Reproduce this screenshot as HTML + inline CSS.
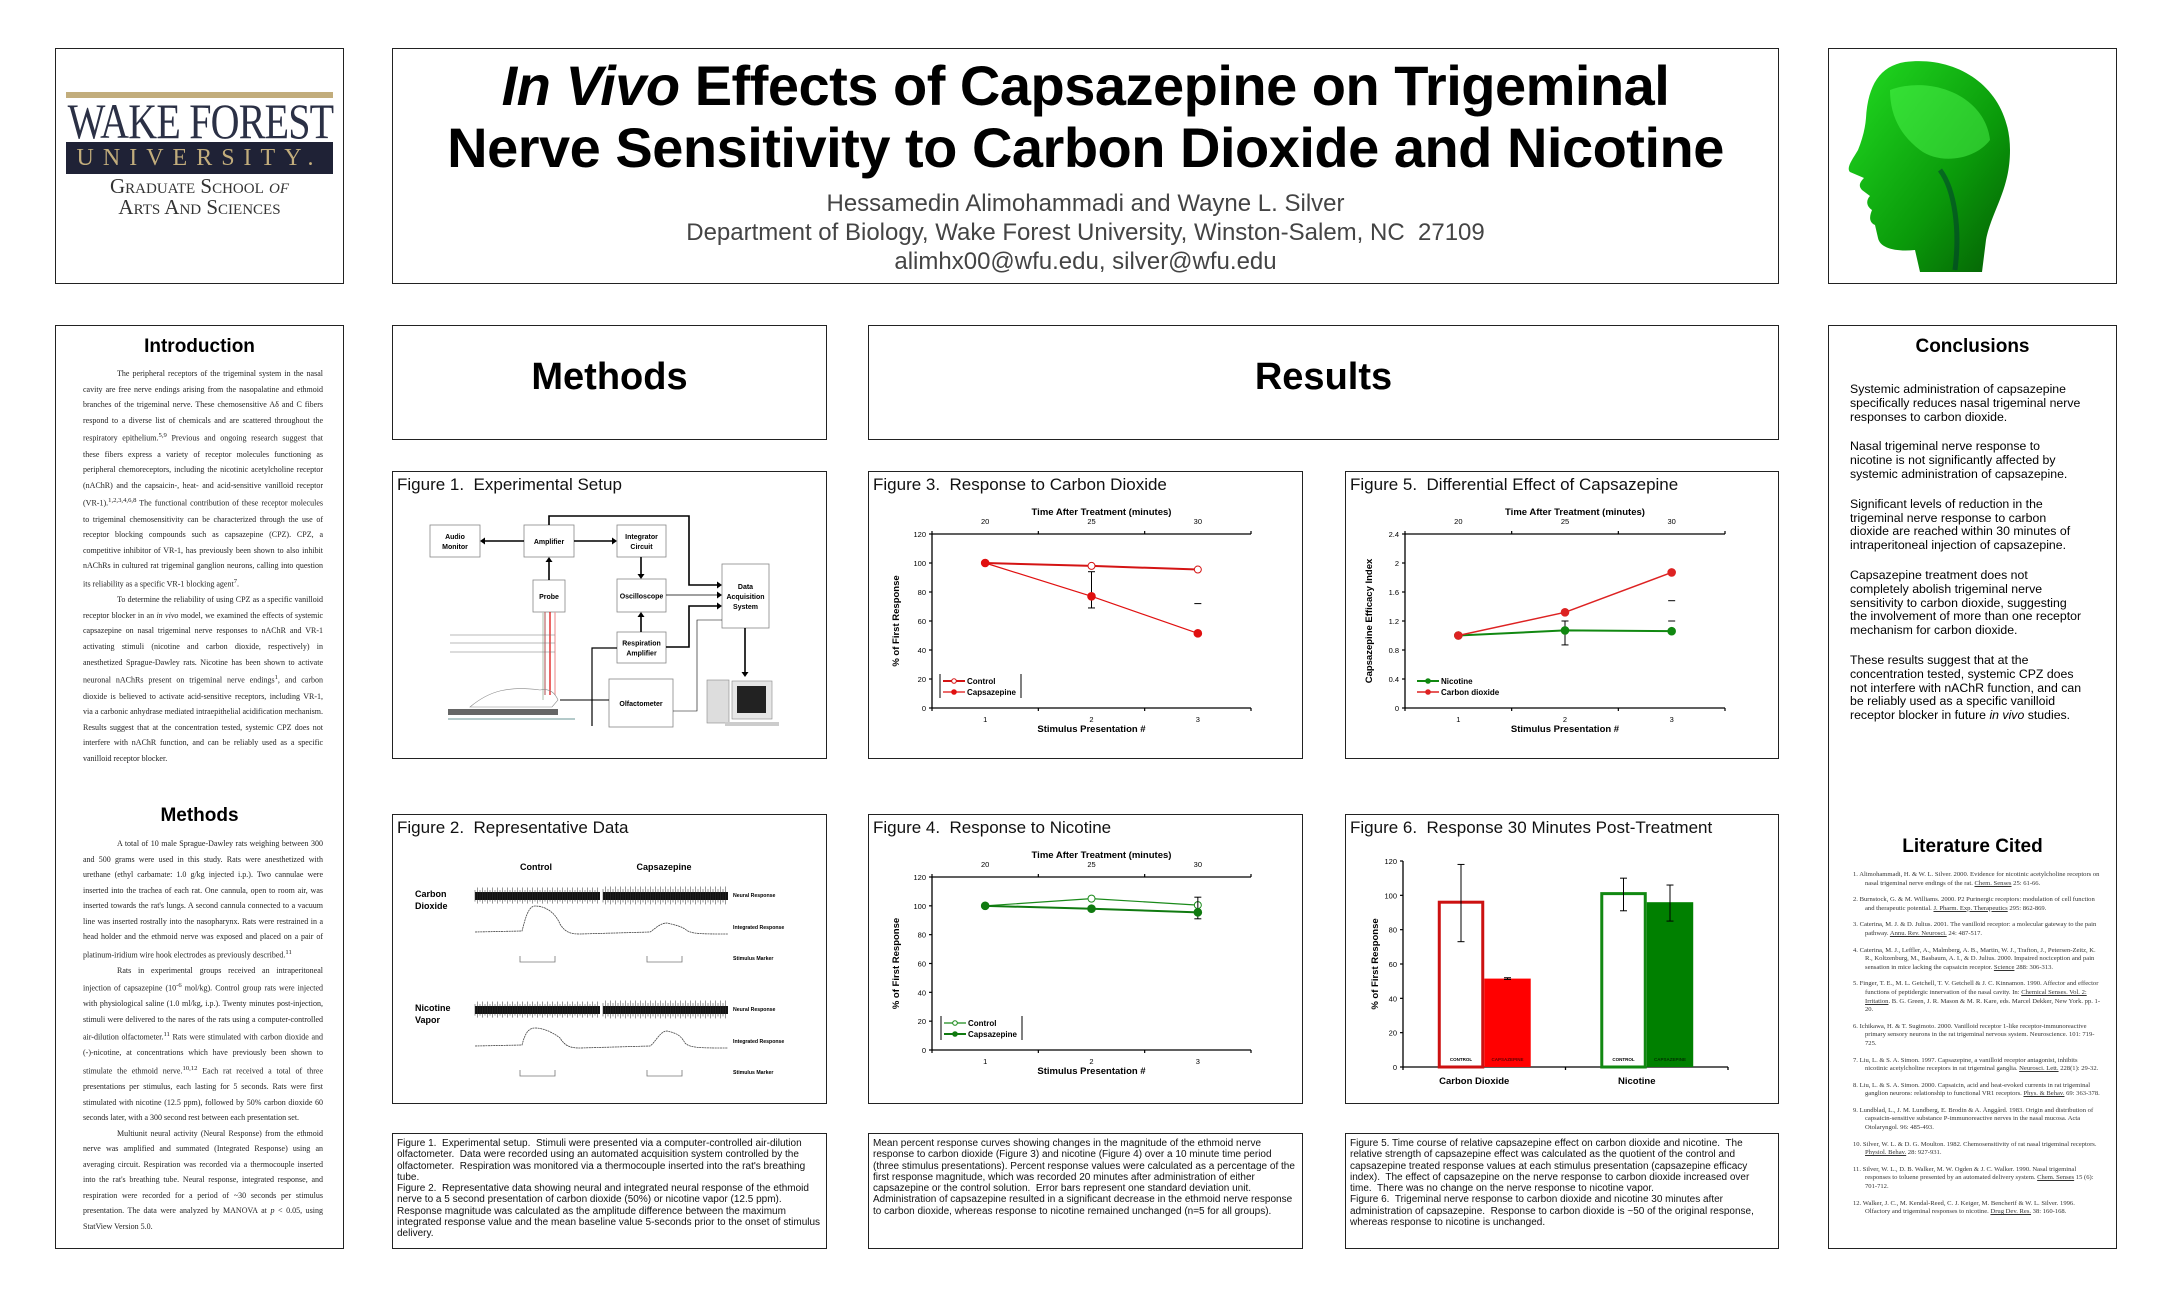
<!DOCTYPE html>
<html><head><meta charset="utf-8">
<style>
*{margin:0;padding:0;box-sizing:border-box}
body{width:2160px;height:1296px;background:#fff;position:relative;overflow:hidden;font-family:"Liberation Sans",sans-serif;color:#000}
.box{position:absolute;border:1.5px solid #222;background:#fff}
.abs{position:absolute}
.h{position:absolute;font-weight:bold;text-align:center;width:100%}
.serif{font-family:"Liberation Serif",serif}
.body8{position:absolute;font-family:"Liberation Serif",serif;font-size:8px;text-align:justify;color:#222}
.body8 p{text-indent:34px}
.concl p{margin-bottom:16px}
.cap{position:absolute;font-family:"Liberation Sans Narrow","Liberation Sans",sans-serif;font-size:10px;line-height:11.3px;color:#111}
.ftitle{position:absolute;font-size:17px;color:#111}
.refs p{margin-bottom:8px;padding-left:12px;text-indent:-12px}
</style></head><body>

<!-- Logo -->
<div class="box" style="left:55px;top:48px;width:289px;height:236px">
  <div class="abs" style="left:10px;top:43px;width:267px;height:6px;background:#c2ad7c"></div>
  <div class="abs serif" style="left:-40px;top:47px;width:369px;text-align:center;font-size:50px;line-height:50px;color:#2b3045;letter-spacing:-1px;white-space:nowrap;transform:scaleX(0.8)">WAKE FOREST</div>
  <div class="abs serif" style="left:10px;top:93px;width:267px;height:32px;background:#1f2236;color:#c2ad7c;font-size:24px;text-align:center;letter-spacing:9px;line-height:32px;white-space:nowrap">UNIVERSITY.</div>
  <div class="abs serif" style="left:0;top:125px;width:100%;text-align:center;font-size:21px;color:#333;font-variant:small-caps">Graduate School <i>of</i></div>
  <div class="abs serif" style="left:0;top:146px;width:100%;text-align:center;font-size:21px;color:#333;font-variant:small-caps">Arts And Sciences</div>
</div>

<!-- Title -->
<div class="box" style="left:392px;top:48px;width:1387px;height:236px">
  <div class="h" style="top:6px;font-size:56px;line-height:62px;letter-spacing:-0.5px"><i>In Vivo</i> Effects of Capsazepine on Trigeminal<br>Nerve Sensitivity to Carbon Dioxide and Nicotine</div>
  <div class="abs" style="left:0;top:140px;width:100%;text-align:center;font-size:24px;line-height:29px;color:#444">Hessamedin Alimohammadi and Wayne L. Silver<br>Department of Biology, Wake Forest University, Winston-Salem, NC&nbsp; 27109<br>alimhx00@wfu.edu, silver@wfu.edu</div>
</div>

<!-- Head -->
<div class="box" style="left:1828px;top:48px;width:289px;height:236px"></div>

<!-- Left column -->
<div class="box" style="left:55px;top:325px;width:289px;height:924px">
  <div class="h" style="top:10px;font-size:19px">Introduction</div>
  <div class="body8" style="left:27px;top:40px;width:240px;line-height:15.6px">
  <p>The peripheral receptors of the trigeminal system in the nasal cavity are free nerve endings arising from the nasopalatine and ethmoid branches of the trigeminal nerve. These chemosensitive Aδ and C fibers respond to a diverse list of chemicals and are scattered throughout the respiratory epithelium.<sup>5,9</sup> Previous and ongoing research suggest that these fibers express a variety of receptor molecules functioning as peripheral chemoreceptors, including the nicotinic acetylcholine receptor (nAChR) and the capsaicin-, heat- and acid-sensitive vanilloid receptor (VR-1).<sup>1,2,3,4,6,8</sup> The functional contribution of these receptor molecules to trigeminal chemosensitivity can be characterized through the use of receptor blocking compounds such as capsazepine (CPZ). CPZ, a competitive inhibitor of VR-1, has previously been shown to also inhibit nAChRs in cultured rat trigeminal ganglion neurons, calling into question its reliability as a specific VR-1 blocking agent<sup>7</sup>.</p>
  <p>To determine the reliability of using CPZ as a specific vanilloid receptor blocker in an <i>in vivo</i> model, we examined the effects of systemic capsazepine on nasal trigeminal nerve responses to nAChR and VR-1 activating stimuli (nicotine and carbon dioxide, respectively) in anesthetized Sprague-Dawley rats. Nicotine has been shown to activate neuronal nAChRs present on trigeminal nerve endings<sup>1</sup>, and carbon dioxide is believed to activate acid-sensitive receptors, including VR-1, via a carbonic anhydrase mediated intraepithelial acidification mechanism. Results suggest that at the concentration tested, systemic CPZ does not interfere with nAChR function, and can be reliably used as a specific vanilloid receptor blocker.</p>
  </div>
  <div class="h" style="top:479px;font-size:19px">Methods</div>
  <div class="body8" style="left:27px;top:510px;width:240px;line-height:15.5px">
  <p>A total of 10 male Sprague-Dawley rats weighing between 300 and 500 grams were used in this study. Rats were anesthetized with urethane (ethyl carbamate: 1.0 g/kg injected i.p.). Two cannulae were inserted into the trachea of each rat. One cannula, open to room air, was inserted towards the rat's lungs. A second cannula connected to a vacuum line was inserted rostrally into the nasopharynx. Rats were restrained in a head holder and the ethmoid nerve was exposed and placed on a pair of platinum-iridium wire hook electrodes as previously described.<sup>11</sup></p>
  <p>Rats in experimental groups received an intraperitoneal injection of capsazepine (10<sup>-6</sup> mol/kg). Control group rats were injected with physiological saline (1.0 ml/kg, i.p.). Twenty minutes post-injection, stimuli were delivered to the nares of the rats using a computer-controlled air-dilution olfactometer.<sup>11</sup> Rats were stimulated with carbon dioxide and (-)-nicotine, at concentrations which have previously been shown to stimulate the ethmoid nerve.<sup>10,12</sup> Each rat received a total of three presentations per stimulus, each lasting for 5 seconds. Rats were first stimulated with nicotine (12.5 ppm), followed by 50% carbon dioxide 60 seconds later, with a 300 second rest between each presentation set.</p>
  <p>Multiunit neural activity (Neural Response) from the ethmoid nerve was amplified and summated (Integrated Response) using an averaging circuit. Respiration was recorded via a thermocouple inserted into the rat's breathing tube. Neural response, integrated response, and respiration were recorded for a period of ~30 seconds per stimulus presentation. The data were analyzed by MANOVA at <i>p</i> &lt; 0.05, using StatView Version 5.0.</p>
  </div>
</div>

<!-- Headers -->
<div class="box" style="left:392px;top:325px;width:435px;height:115px"><div class="h" style="top:30px;font-size:38px">Methods</div></div>
<div class="box" style="left:868px;top:325px;width:911px;height:115px"><div class="h" style="top:30px;font-size:38px">Results</div></div>

<!-- Figure boxes -->
<div class="box" style="left:392px;top:471px;width:435px;height:288px"><div class="ftitle" style="left:4px;top:3px">Figure 1.&nbsp; Experimental Setup</div></div>
<div class="box" style="left:868px;top:471px;width:435px;height:288px"><div class="ftitle" style="left:4px;top:3px">Figure 3.&nbsp; Response to Carbon Dioxide</div></div>
<div class="box" style="left:1345px;top:471px;width:434px;height:288px"><div class="ftitle" style="left:4px;top:3px">Figure 5.&nbsp; Differential Effect of Capsazepine</div></div>
<div class="box" style="left:392px;top:814px;width:435px;height:290px"><div class="ftitle" style="left:4px;top:3px">Figure 2.&nbsp; Representative Data</div></div>
<div class="box" style="left:868px;top:814px;width:435px;height:290px"><div class="ftitle" style="left:4px;top:3px">Figure 4.&nbsp; Response to Nicotine</div></div>
<div class="box" style="left:1345px;top:814px;width:434px;height:290px"><div class="ftitle" style="left:4px;top:3px">Figure 6.&nbsp; Response 30 Minutes Post-Treatment</div></div>

<!-- Captions -->
<div class="box" style="left:392px;top:1133px;width:435px;height:116px"><div class="cap" style="left:4px;top:4px;width:425px">Figure 1.&nbsp; Experimental setup.&nbsp; Stimuli were presented via a computer-controlled air-dilution olfactometer.&nbsp; Data were recorded using an automated acquisition system controlled by the olfactometer.&nbsp; Respiration was monitored via a thermocouple inserted into the rat's breathing tube.<br>Figure 2.&nbsp; Representative data showing neural and integrated neural response of the ethmoid nerve to a 5 second presentation of carbon dioxide (50%) or nicotine vapor (12.5 ppm). Response magnitude was calculated as the amplitude difference between the maximum integrated response value and the mean baseline value 5-seconds prior to the onset of stimulus delivery.</div></div>
<div class="box" style="left:868px;top:1133px;width:435px;height:116px"><div class="cap" style="left:4px;top:4px;width:425px">Mean percent response curves showing changes in the magnitude of the ethmoid nerve response to carbon dioxide (Figure 3) and nicotine (Figure 4) over a 10 minute time period (three stimulus presentations). Percent response values were calculated as a percentage of the first response magnitude, which was recorded 20 minutes after administration of either capsazepine or the control solution.&nbsp; Error bars represent one standard deviation unit.&nbsp; Administration of capsazepine resulted in a significant decrease in the ethmoid nerve response to carbon dioxide, whereas response to nicotine remained unchanged (n=5 for all groups).</div></div>
<div class="box" style="left:1345px;top:1133px;width:434px;height:116px"><div class="cap" style="left:4px;top:4px;width:424px">Figure 5. Time course of relative capsazepine effect on carbon dioxide and nicotine.&nbsp; The relative strength of capsazepine effect was calculated as the quotient of the control and capsazepine treated response values at each stimulus presentation (capsazepine efficacy index).&nbsp; The effect of capsazepine on the nerve response to carbon dioxide increased over time.&nbsp; There was no change on the nerve response to nicotine vapor.<br>Figure 6.&nbsp; Trigeminal nerve response to carbon dioxide and nicotine 30 minutes after administration of capsazepine.&nbsp; Response to carbon dioxide is ~50 of the original response, whereas response to nicotine is unchanged.</div></div>

<!-- Right column -->
<div class="box" style="left:1828px;top:325px;width:289px;height:924px">
  <div class="h" style="top:10px;font-size:19px">Conclusions</div>
  <div class="abs concl" style="left:21px;top:57px;width:232px;font-size:12.3px;line-height:13.8px">
    <p>Systemic administration of capsazepine specifically reduces nasal trigeminal nerve responses to carbon dioxide.</p>
    <p>Nasal trigeminal nerve response to nicotine is not significantly affected by systemic administration of capsazepine.</p>
    <p>Significant levels of reduction in the trigeminal nerve response to carbon dioxide are reached within 30 minutes of intraperitoneal injection of capsazepine.</p>
    <p>Capsazepine treatment does not completely abolish trigeminal nerve sensitivity to carbon dioxide, suggesting the involvement of more than one receptor mechanism for carbon dioxide.</p>
    <p>These results suggest that at the concentration tested, systemic CPZ does not interfere with nAChR function, and can be reliably used as a specific vanilloid receptor blocker in future <i>in vivo</i> studies.</p>
  </div>
  <div class="h" style="top:510px;font-size:19px">Literature Cited</div>
  <div class="abs refs serif" style="left:24px;top:545px;width:248px;font-size:6.6px;line-height:8.6px;color:#333">
    <p>1. Alimohammadi, H. &amp; W. L. Silver. 2000. Evidence for nicotinic acetylcholine receptors on nasal trigeminal nerve endings of the rat. <u>Chem. Senses</u> 25: 61-66.</p>
    <p>2. Burnstock, G. &amp; M. Williams. 2000. P2 Purinergic receptors: modulation of cell function and therapeutic potential. <u>J. Pharm. Exp. Therapeutics</u> 295: 862-869.</p>
    <p>3. Caterina, M. J. &amp; D. Julius. 2001. The vanilloid receptor: a molecular gateway to the pain pathway. <u>Annu. Rev. Neurosci.</u> 24: 487-517.</p>
    <p>4. Caterina, M. J., Leffler, A., Malmberg, A. B., Martin, W. J., Trafton, J., Petersen-Zeitz, K. R., Koltzenburg, M., Basbaum, A. I., &amp; D. Julius. 2000. Impaired nociception and pain sensation in mice lacking the capsaicin receptor. <u>Science</u> 288: 306-313.</p>
    <p>5. Finger, T. E., M. L. Getchell, T. V. Getchell &amp; J. C. Kinnamon. 1990. Affector and effector functions of peptidergic innervation of the nasal cavity. In: <u>Chemical Senses. Vol. 2: Irritation</u>. B. G. Green, J. R. Mason &amp; M. R. Kare, eds. Marcel Dekker, New York. pp. 1-20.</p>
    <p>6. Ichikawa, H. &amp; T. Sugimoto. 2000. Vanilloid receptor 1-like receptor-immunoreactive primary sensory neurons in the rat trigeminal nervous system. Neuroscience. 101: 719-725.</p>
    <p>7. Liu, L. &amp; S. A. Simon. 1997. Capsazepine, a vanilloid receptor antagonist, inhibits nicotinic acetylcholine receptors in rat trigeminal ganglia. <u>Neurosci. Lett.</u> 228(1): 29-32.</p>
    <p>8. Liu, L. &amp; S. A. Simon. 2000. Capsaicin, acid and heat-evoked currents in rat trigeminal ganglion neurons: relationship to functional VR1 receptors. <u>Phys. &amp; Behav.</u> 69: 363-378.</p>
    <p>9. Lundblad, L., J. M. Lundberg, E. Brodin &amp; A. Änggård. 1983. Origin and distribution of capsaicin-sensitive substance P-immunoreactive nerves in the nasal mucosa. Acta Otolaryngol. 96: 485-493.</p>
    <p>10. Silver, W. L. &amp; D. G. Moulton. 1982. Chemosensitivity of rat nasal trigeminal receptors. <u>Physiol. Behav.</u> 28: 927-931.</p>
    <p>11. Silver, W. L., D. B. Walker, M. W. Ogden &amp; J. C. Walker. 1990. Nasal trigeminal responses to toluene presented by an automated delivery system. <u>Chem. Senses</u> 15 (6): 701-712.</p>
    <p>12. Walker, J. C., M. Kendal-Reed, C. J. Keiger, M. Bencherif &amp; W. L. Silver. 1996. Olfactory and trigeminal responses to nicotine. <u>Drug Dev. Res.</u> 38: 160-168.</p>
  </div>
</div>

<svg id="art" width="2160" height="1296" style="position:absolute;left:0;top:0" xmlns="http://www.w3.org/2000/svg" font-family="Liberation Sans, sans-serif">
  <defs>
    <linearGradient id="hg" x1="0" y1="0" x2="1" y2="1"><stop offset="0" stop-color="#22dd22"/><stop offset="0.6" stop-color="#0a9a0a"/><stop offset="1" stop-color="#045c04"/></linearGradient>
  </defs>
  <g>
    <path d="M1905 62 C1960 55 2010 90 2010 150 C2010 190 1992 210 1986 240 L1982 272 L1920 272 L1915 250 C1895 252 1880 248 1878 238 L1875 225 C1868 222 1870 215 1872 210 C1866 206 1866 200 1870 196 L1862 190 C1858 186 1860 182 1864 178 L1850 172 C1846 168 1852 160 1858 150 C1862 140 1865 130 1866 118 C1868 85 1880 66 1905 62 Z" fill="url(#hg)"/>
    <path d="M1890 90 C1930 75 1985 95 1990 140 C1975 160 1940 165 1920 150 C1900 135 1890 115 1890 90 Z" fill="#5f5" opacity="0.45"/>
    <path d="M1940 170 C1955 190 1960 230 1955 270" stroke="#033" stroke-width="5" fill="none" opacity="0.5"/>
  </g>
  <g id="fig1"></g>
  <g id="fig2"></g>
  <g id="fig3"></g>
  <g id="fig4"></g>
  <g id="fig5"></g>
  <g id="fig6"></g>
</svg>

<script>
// ---- Chart data ----
const stimulusCategories = [1, 2, 3];
const timeLabels = ["20", "25", "30"];
const pctTicks = [0, 20, 40, 60, 80, 100, 120];
const indexTicks = [0, 0.4, 0.8, 1.2, 1.6, 2, 2.4];
const indexTickLabels = ["0", "0.4", "0.8", "1.2", "1.6", "2", "2.4"];

const co2Control = [100, 98, 95.5];
const co2Caps = [100, 77, 51.5];
const co2CapsErrHi = [null, 94, 72];
const co2CapsErrLo = [null, 69, null];

const nicControl = [100, 105, 100.5];
const nicCaps = [100, 98, 95.5];
const nicCapsErrHi = [null, null, 106];
const nicCapsErrLo = [null, null, 91];

const effNicotine = [1, 1.07, 1.06];
const effNicErrHi = [null, 1.2, 1.2];
const effNicErrLo = [null, 0.87, null];
const effCO2 = [1, 1.32, 1.87];
const effCO2ErrHi = [null, null, 1.48];
const effCO2ErrLo = [null, null, null];

const barGroups = ["Carbon Dioxide", "Nicotine"];
const barControl = [96, 101];
const barCaps = [51.5, 96];
const barControlErrLo = [73, 91];
const barControlErrHi = [118, 110];
const barCapsErrLo = [51, 85];
const barCapsErrHi = [52, 106];

const NS = "http://www.w3.org/2000/svg";
function mk(parent, tag, attrs, text) {
  const e = document.createElementNS(NS, tag);
  for (const k in attrs) e.setAttribute(k, attrs[k]);
  if (text !== undefined) e.textContent = text;
  parent.appendChild(e);
  return e;
}

function lineChart(g, cfg) {
  const L = cfg.left, R = cfg.right, T = cfg.top, B = cfg.bottom;
  const xs = c => L + (c - 0.5) / 3 * (R - L);
  const ys = v => B - v / cfg.ymax * (B - T);
  let a = mk(g, 'line', {x1: L, y1: T, x2: L, y2: B, stroke: '#000', 'stroke-width': 1.3});
   
  a = mk(g, 'line', {x1: L, y1: B, x2: R, y2: B, stroke: '#000', 'stroke-width': 1.3});
   
  a = mk(g, 'line', {x1: L, y1: T, x2: R, y2: T, stroke: '#000', 'stroke-width': 1.3});
   
  [0.5, 1.5, 2.5, 3.5].forEach(c => {
    mk(g, 'line', {x1: xs(c), y1: B, x2: xs(c), y2: B + 3, stroke: '#000', 'stroke-width': 1.2});
    mk(g, 'line', {x1: xs(c), y1: T, x2: xs(c), y2: T - 3, stroke: '#000', 'stroke-width': 1.2});
  });
  cfg.ticks.forEach((v, i) => {
    mk(g, 'line', {x1: L - 3, y1: ys(v), x2: L, y2: ys(v), stroke: '#000', 'stroke-width': 1.2});
    const t = mk(g, 'text', {x: L - 6, y: ys(v) + 3, 'font-size': 7.5, 'text-anchor': 'end'}, cfg.tickLabels[i]);
     
  });
  stimulusCategories.forEach((c, i) => {
    let t = mk(g, 'text', {x: xs(c), y: B + 14, 'font-size': 7.5, 'text-anchor': 'middle'}, String(c));
     
    t = mk(g, 'text', {x: xs(c), y: T - 10, 'font-size': 7.5, 'text-anchor': 'middle'}, timeLabels[i]);
     
  });
  let t = mk(g, 'text', {x: (L + R) / 2 + 10, y: T - 19, 'font-size': 9.5, 'font-weight': 'bold', 'text-anchor': 'middle'}, 'Time After Treatment (minutes)');
   
  t = mk(g, 'text', {x: xs(2), y: B + 24, 'font-size': 9.5, 'font-weight': 'bold', 'text-anchor': 'middle'}, 'Stimulus Presentation #');
   
  t = mk(g, 'text', {x: 0, y: 0, 'font-size': 9.5, 'font-weight': 'bold', 'text-anchor': 'middle', transform: `translate(${L - 33},${(T + B) / 2}) rotate(-90)`}, cfg.ytitle);
   

  cfg.series.forEach(s => {
    const pts = s.values.map((v, i) => xs(stimulusCategories[i]) + ',' + ys(v)).join(' ');
    const pl = mk(g, 'polyline', {points: pts, fill: 'none', stroke: s.color, 'stroke-width': s.width});
     
    if (s.errHi) s.values.forEach((v, i) => {
      const x = xs(stimulusCategories[i]);
      const hi = s.errHi[i], lo = s.errLo[i];
      if (hi !== null && lo !== null) mk(g, 'line', {x1: x, y1: ys(hi), x2: x, y2: ys(lo), stroke: '#000', 'stroke-width': 1});
      [hi, lo].forEach(e => { if (e !== null) mk(g, 'line', {x1: x - 3.5, y1: ys(e), x2: x + 3.5, y2: ys(e), stroke: '#000', 'stroke-width': 1}); });
    });
    s.values.forEach((v, i) => {
      const c = mk(g, 'circle', {cx: xs(stimulusCategories[i]), cy: ys(v), r: s.r, fill: s.open ? '#fff' : s.color, stroke: s.color, 'stroke-width': 1});
       
    });
  });
  const lg = cfg.legend;
  if (lg.box) {
    mk(g, 'line', {x1: lg.x, y1: lg.y, x2: lg.x, y2: lg.y + 24, stroke: '#000', 'stroke-width': 1});
    mk(g, 'line', {x1: lg.x + 81, y1: lg.y, x2: lg.x + 81, y2: lg.y + 24, stroke: '#000', 'stroke-width': 1});
  }
  cfg.series.forEach((s, i) => {
    const yy = lg.y + 7 + i * 11;
    const lx = lg.x + 3;
    mk(g, 'line', {x1: lx, y1: yy, x2: lx + 22, y2: yy, stroke: s.color, 'stroke-width': s.width});
    mk(g, 'circle', {cx: lx + 11, cy: yy, r: 2.3, fill: s.open ? '#fff' : s.color, stroke: s.color, 'stroke-width': 1});
    const lt = mk(g, 'text', {x: lx + 24, y: yy + 3, 'font-size': 8, 'font-weight': 'bold'}, s.label);
     
  });
}

lineChart(document.getElementById('fig3'), {
  left: 932, right: 1251, top: 534, bottom: 708, ymax: 120, ticks: pctTicks, tickLabels: pctTicks.map(String),
  ytitle: '% of First Response', legend: {x: 940, y: 674, box: true},
  series: [
    {name: 'co2-control', label: 'Control', values: co2Control, color: '#d41414', width: 2, open: true, r: 3.5},
    {name: 'co2-capsazepine', label: 'Capsazepine', values: co2Caps, color: '#e01010', width: 1.2, open: false, r: 3.8, errHi: co2CapsErrHi, errLo: co2CapsErrLo}
  ]
});
lineChart(document.getElementById('fig4'), {
  left: 932, right: 1251, top: 877, bottom: 1050, ymax: 120, ticks: pctTicks, tickLabels: pctTicks.map(String),
  ytitle: '% of First Response', legend: {x: 941, y: 1016, box: true},
  series: [
    {name: 'nic-control', label: 'Control', values: nicControl, color: '#1a8a1a', width: 1.2, open: true, r: 3.5},
    {name: 'nic-capsazepine', label: 'Capsazepine', values: nicCaps, color: '#107a10', width: 2, open: false, r: 3.8, errHi: nicCapsErrHi, errLo: nicCapsErrLo}
  ]
});
lineChart(document.getElementById('fig5'), {
  left: 1405, right: 1725, top: 534, bottom: 708, ymax: 2.4, ticks: indexTicks, tickLabels: indexTickLabels,
  ytitle: 'Capsazepine Efficacy Index', legend: {x: 1414, y: 674, box: false},
  series: [
    {name: 'efficacy-nicotine', label: 'Nicotine', values: effNicotine, color: '#118811', width: 2, open: false, r: 3.8, errHi: effNicErrHi, errLo: effNicErrLo},
    {name: 'efficacy-co2', label: 'Carbon dioxide', values: effCO2, color: '#dd2222', width: 1.5, open: false, r: 3.8, errHi: effCO2ErrHi, errLo: effCO2ErrLo}
  ]
});

// Figure 6 bar chart
(function () {
  const g = document.getElementById('fig6');
  const L = 1403, R = 1728, T = 861, B = 1067, ymax = 120;
  const ys = v => B - v / ymax * (B - T);
  const catW = (R - L) / barGroups.length;
  const bw = catW * 0.286;
  mk(g, 'line', {x1: L, y1: T, x2: L, y2: B, stroke: '#000', 'stroke-width': 1.3});
  mk(g, 'line', {x1: L, y1: B, x2: R, y2: B, stroke: '#000', 'stroke-width': 1.3});
  [0, 1, 2].forEach(i => mk(g, 'line', {x1: L + i * catW, y1: B, x2: L + i * catW, y2: B + 3, stroke: '#000', 'stroke-width': 1.3}));
  pctTicks.forEach(v => {
    mk(g, 'line', {x1: L - 3, y1: ys(v), x2: L, y2: ys(v), stroke: '#000', 'stroke-width': 1.2});
    const t = mk(g, 'text', {x: L - 6, y: ys(v) + 3, 'font-size': 7.5, 'text-anchor': 'end'}, String(v));
     
  });
  let t = mk(g, 'text', {x: 0, y: 0, 'font-size': 9.5, 'font-weight': 'bold', 'text-anchor': 'middle', transform: `translate(${L - 25},${(T + B) / 2}) rotate(-90)`}, '% of First Response');
   
  const colors = ['#cc1111', '#118811'];
  const fills = ['#ff0000', '#008000'];
  barGroups.forEach((name, i) => {
    const cx = L + catW * (i + 0.5);
    const c = mk(g, 'rect', {x: cx - bw + 1.5, y: ys(barControl[i]), width: bw - 3, height: B - ys(barControl[i]), fill: '#fff', stroke: colors[i], 'stroke-width': 3});
     
    const d = mk(g, 'rect', {x: cx, y: ys(barCaps[i]), width: bw, height: B - ys(barCaps[i]), fill: fills[i]});
     
    [[cx - bw / 2, barControlErrLo[i], barControlErrHi[i]], [cx + bw / 2, barCapsErrLo[i], barCapsErrHi[i]]].forEach(([x, lo, hi]) => {
      mk(g, 'line', {x1: x, y1: ys(lo), x2: x, y2: ys(hi), stroke: '#000', 'stroke-width': 1});
      mk(g, 'line', {x1: x - 3.5, y1: ys(lo), x2: x + 3.5, y2: ys(lo), stroke: '#000', 'stroke-width': 1});
      mk(g, 'line', {x1: x - 3.5, y1: ys(hi), x2: x + 3.5, y2: ys(hi), stroke: '#000', 'stroke-width': 1});
    });
    mk(g, 'text', {x: cx - bw / 2, y: ys(3.5), 'font-size': 4.5, 'font-weight': 'bold', 'text-anchor': 'middle'}, 'CONTROL');
    mk(g, 'text', {x: cx + bw / 2, y: ys(3.5), 'font-size': 4.5, 'font-weight': 'bold', 'text-anchor': 'middle', fill: i === 0 ? '#600' : '#030'}, 'CAPSAZEPINE');
    const ct = mk(g, 'text', {x: cx - 10, y: B + 17, 'font-size': 9.5, 'font-weight': 'bold', 'text-anchor': 'middle'}, name);
     
  });
})();

// Figure 1 diagram
(function () {
  const g = document.getElementById('fig1');
  const box = (x, y, w, h, label, name) => {
    const r = mk(g, 'rect', {x, y, width: w, height: h, fill: '#fff', stroke: '#888', 'stroke-width': 0.8});
     
    label.forEach((l, i) => mk(g, 'text', {x: x + w / 2, y: y + h / 2 + 3 + (i - (label.length - 1) / 2) * 10, 'font-size': 7, 'font-weight': 'bold', 'text-anchor': 'middle'}, l));
  };
  const ln = (pts, w) => mk(g, 'polyline', {points: pts, fill: 'none', stroke: '#000', 'stroke-width': w || 1.6});
  const arr = (x, y, dir) => {
    const p = {r: `${x},${y} ${x - 5},${y - 3.5} ${x - 5},${y + 3.5}`, l: `${x},${y} ${x + 5},${y - 3.5} ${x + 5},${y + 3.5}`, d: `${x},${y} ${x - 3.5},${y - 5} ${x + 3.5},${y - 5}`, u: `${x},${y} ${x - 3.5},${y + 5} ${x + 3.5},${y + 5}`}[dir];
    mk(g, 'polygon', {points: p, fill: '#000'});
  };
  box(430, 525, 50, 32, ['Audio', 'Monitor'], 'audio-monitor-box');
  box(524, 525, 50, 32, ['Amplifier'], 'amplifier-box');
  box(617, 525, 49, 32, ['Integrator', 'Circuit'], 'integrator-box');
  box(533, 580, 32, 32, ['Probe'], 'probe-box');
  box(617, 579, 49, 33, ['Oscilloscope'], 'oscilloscope-box');
  box(617, 632, 49, 31, ['Respiration', 'Amplifier'], 'respiration-amplifier-box');
  box(722, 564, 47, 64, ['Data', 'Acquisition', 'System'], 'data-acquisition-box');
  box(609, 679, 64, 48, ['Olfactometer'], 'olfactometer-box');
  ln('524,541 482,541'); arr(480, 541, 'l');
  ln('574,541 615,541'); arr(617, 541, 'r');
  ln('549,580 549,559'); arr(549, 557, 'u');
  ln('641,557 641,577'); arr(641, 579, 'd');
  ln('641,632 641,614'); arr(641, 612, 'u');
  ln('549,525 549,516 689,516 689,585 720,585'); arr(722, 585, 'r');
  ln('666,595 720,595', 0.8); arr(722, 595, 'r');
  ln('666,647 689,647 689,606 720,606'); arr(722, 606, 'r');
  ln('745,628 745,673'); arr(745, 677, 'd');
  ln('673,711 697,711 697,620 722,620', 0.6);
  ln('592,726 592,648 617,648', 1.2);
  ln('560,700 609,700', 1);
  mk(g, 'line', {x1: 545, y1: 612, x2: 545, y2: 695, stroke: '#b66', 'stroke-width': 1.2});
  mk(g, 'line', {x1: 550, y1: 612, x2: 550, y2: 695, stroke: '#d00', 'stroke-width': 1.2});
  mk(g, 'line', {x1: 555, y1: 612, x2: 555, y2: 695, stroke: '#e99', 'stroke-width': 1.2});
  mk(g, 'line', {x1: 543, y1: 612, x2: 543, y2: 700, stroke: '#bcb', 'stroke-width': 1.2});
  [635, 643, 652].forEach(y => mk(g, 'line', {x1: 450, y1: y, x2: 555, y2: y, stroke: '#777', 'stroke-width': 0.6}));
  mk(g, 'path', {d: 'M 470 707 C 490 690 510 686 540 690 C 550 688 555 693 558 700 L 552 707 Z', fill: 'none', stroke: '#888', 'stroke-width': 0.6});
  mk(g, 'rect', {x: 448, y: 709, width: 110, height: 6, fill: '#666'});
  mk(g, 'line', {x1: 448, y1: 719, x2: 575, y2: 719, stroke: '#8aa', 'stroke-width': 1.2});
  mk(g, 'rect', {x: 707, y: 680, width: 22, height: 43, fill: '#ddd', stroke: '#888', 'stroke-width': 0.6});
  mk(g, 'rect', {x: 732, y: 681, width: 40, height: 38, fill: '#e6e6e6', stroke: '#888', 'stroke-width': 0.6});
  mk(g, 'rect', {x: 737, y: 686, width: 29, height: 27, fill: '#222'});
  mk(g, 'rect', {x: 725, y: 722, width: 54, height: 4, fill: '#ccc'});
})();

// Figure 2 traces
(function () {
  const g = document.getElementById('fig2');
  const txt = (x, y, s, fs, w, anchor) => mk(g, 'text', {x, y, 'font-size': fs, 'font-weight': w || 'bold', 'text-anchor': anchor || 'start'}, s);
  txt(536, 870, 'Control', 9, 'bold', 'middle');
  txt(664, 870, 'Capsazepine', 9, 'bold', 'middle');
  [0, 114].forEach((dy, k) => {
    txt(415, 897 + dy, k ? 'Nicotine' : 'Carbon', 9);
    txt(415, 909 + dy, k ? 'Vapor' : 'Dioxide', 9);
    [[475, 600], [603, 728]].forEach(([a, b]) => {
      mk(g, 'rect', {x: a, y: 892 + dy, width: b - a, height: 8, fill: '#111'});
      let p = '';
      for (let x = a; x < b; x += 2.5) { const h = 2 + ((x * 7) % 5); p += `M${x} ${892 + dy - h}L${x} ${900 + dy + h * 0.8}`; }
      mk(g, 'path', {d: p, stroke: '#333', 'stroke-width': 0.5});
    });
    txt(733, 897 + dy, 'Neural Response', 5.2);
    txt(733, 929 + dy, 'Integrated Response', 5.2);
    txt(733, 960 + dy, 'Stimulus Marker', 5.2);
    const base = 932 + dy;
    const pk1 = k ? 18 : 26, pk2 = k ? 15 : 9;
    mk(g, 'path', {d: `M475 ${base} L522 ${base - 1} C525 ${base - 12} 528 ${base - pk1} 535 ${base - pk1} C545 ${base - pk1} 555 ${base - pk1 + 6} 560 ${base - 8} C565 ${base} 570 ${base + 2} 580 ${base + 2} L650 ${base} C655 ${base - 3} 660 ${base - pk2} 667 ${base - pk2} C675 ${base - pk2 + 2} 680 ${base - pk2 + 3} 685 ${base - 3} C690 ${base + 2} 700 ${base + 2} 728 ${base + 2}`, fill: 'none', stroke: '#444', 'stroke-width': 0.8, 'stroke-dasharray': '2 0.6'});
    [[520, 555], [647, 682]].forEach(([a, b]) => mk(g, 'polyline', {points: `${a},${956 + dy} ${a},${962 + dy} ${b},${962 + dy} ${b},${956 + dy}`, fill: 'none', stroke: '#777', 'stroke-width': 0.8}));
  });
})();
</script>
</body></html>
